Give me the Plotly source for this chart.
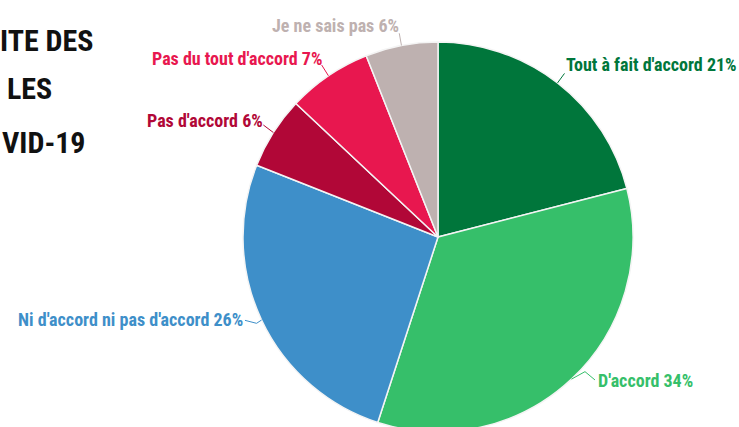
import math
import plotly.graph_objects as go

# Survey answers, in clockwise order from 12 o'clock
categories = [
    "Tout à fait d'accord",
    "D'accord",
    "Ni d'accord ni pas d'accord",
    "Pas d'accord",
    "Pas du tout d'accord",
    "Je ne sais pas",
]
shares = [21, 34, 26, 6, 7, 6]
slice_colors = ["#00763B", "#36BF6A", "#3E8FC9", "#B10737", "#E8174F", "#BEB1B0"]
title_lines = ["ITE DES", "LES", "VID-19"]

# Canvas and pie geometry (pixels)
W, H = 739, 440
CX, CY, R = 438, 237, 195

# Leader lines: bend points relative to the rim point of each slice,
# then the label offset from the last bend
leader_bends = [
    [(7, -9.5)],
    [(13.5, -7.5), (23.5, 0.8)],
    [(-5, 3.3), (-16.6, 0.3)],
    [(-10, -7.5)],
    [(-6.7, -10.7)],
    [(-2.2, -12.2)],
]
label_offsets = [(1, -8.5), (3, 0.5), (-1.7, -0.6), (0, -5), (0, -7), (0, -7.5)]

FONT = "'Roboto Condensed', 'Open Sans Condensed', sans-serif"
LABEL_SIZE = 18
TITLE_SIZE = 30


def px(x):
    return x / W


def py(y):
    return (H - y) / H


fig = go.Figure(
    go.Pie(
        labels=categories,
        values=shares,
        sort=False,
        direction="clockwise",
        rotation=0,
        textinfo="none",
        hoverinfo="label+percent",
        showlegend=False,
        marker=dict(colors=slice_colors, line=dict(color="#F4F4F4", width=1.5)),
        domain=dict(
            x=[px(CX - R), px(CX + R)],
            y=[py(CY + R), py(CY - R)],
        ),
    )
)

total = sum(shares)
shapes = []
annotations = []
cum = 0
for i, (cat, val) in enumerate(zip(categories, shares)):
    theta = 2 * math.pi * (cum + val / 2) / total
    cum += val
    ex = CX + R * math.sin(theta)
    ey = CY - R * math.cos(theta)
    pts = [(ex, ey)] + [(ex + dx, ey + dy) for dx, dy in leader_bends[i]]
    path = "M " + " L ".join(f"{px(x):.5f},{py(y):.5f}" for x, y in pts)
    shapes.append(
        dict(type="path", xref="paper", yref="paper", path=path,
             line=dict(color=slice_colors[i], width=1))
    )
    lx, ly = pts[-1]
    ox, oy = label_offsets[i]
    annotations.append(
        dict(
            xref="paper", yref="paper",
            x=px(lx + ox), y=py(ly + oy),
            xanchor="left" if math.sin(theta) > 0 else "right",
            yanchor="middle",
            text=f"{cat} {val}%",
            showarrow=False,
            borderpad=0, borderwidth=0,
            font=dict(family=FONT, size=LABEL_SIZE, color=slice_colors[i], weight="bold"),
        )
    )

# Heading block at the left edge
title_right = [93, 52, 86]
title_mid = [41, 88.5, 142.5]
for line, rx, my in zip(title_lines, title_right, title_mid):
    annotations.append(
        dict(
            xref="paper", yref="paper",
            x=px(rx), y=py(my),
            xanchor="right", yanchor="middle",
            text=line, showarrow=False,
            borderpad=0, borderwidth=0,
            font=dict(family=FONT, size=TITLE_SIZE, color="#111111", weight="bold"),
        )
    )

fig.update_layout(
    width=W,
    height=H,
    margin=dict(l=0, r=0, t=0, b=0),
    paper_bgcolor="white",
    plot_bgcolor="white",
    shapes=shapes,
    annotations=annotations,
)

fig.write_html(
    "out.html",
    post_script="document.documentElement.style.overflow='hidden';document.body.style.overflow='hidden';",
)
